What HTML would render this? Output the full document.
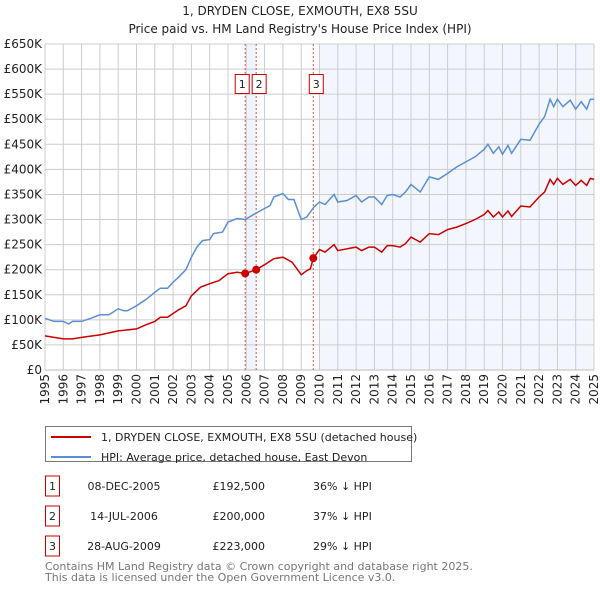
<!DOCTYPE html>
<html><head><meta charset="utf-8"><style>
body{margin:0;background:#fff;width:600px;height:590px;overflow:hidden;font-family:"DejaVu Sans","Liberation Sans",sans-serif;}
</style></head><body>
<svg id="c" width="600" height="590" xmlns="http://www.w3.org/2000/svg" style="font-family:'DejaVu Sans','Liberation Sans',sans-serif">
<text x="300" y="15" text-anchor="middle" font-size="12" fill="#222">1, DRYDEN CLOSE, EXMOUTH, EX8 5SU</text>
<text x="300" y="33" text-anchor="middle" font-size="12" fill="#222">Price paid vs. HM Land Registry's House Price Index (HPI)</text>
<g id="plot"></g>
<g>
<rect x="45.5" y="426.5" width="366" height="35" fill="#fff" stroke="#777"/>
<line x1="51" y1="437" x2="91" y2="437" stroke="#cc0000" stroke-width="2"/>
<text x="101" y="441" font-size="11" fill="#222">1, DRYDEN CLOSE, EXMOUTH, EX8 5SU (detached house)</text>
<line x1="51" y1="457" x2="91" y2="457" stroke="#5b8fd4" stroke-width="2"/>
<text x="101" y="461" font-size="11" fill="#222">HPI: Average price, detached house, East Devon</text>
</g>
<g id="table" font-size="11" fill="#222"></g>
<text x="45" y="570" font-size="11" fill="#777">Contains HM Land Registry data © Crown copyright and database right 2025.</text>
<text x="45" y="581" font-size="11" fill="#777">This data is licensed under the Open Government Licence v3.0.</text>
</svg>
<script>
const hpiYears=[1995,1995.5,1996,1996.3,1996.5,1997,1997.5,1998,1998.5,1999,1999.3,1999.5,2000,2000.5,2001,2001.3,2001.7,2002,2002.3,2002.7,2003,2003.3,2003.6,2004,2004.2,2004.7,2005,2005.5,2005.94,2006.5,2007,2007.3,2007.5,2008,2008.3,2008.6,2009,2009.3,2009.7,2010,2010.3,2010.8,2011,2011.5,2012,2012.3,2012.7,2013,2013.4,2013.7,2014,2014.4,2014.7,2015,2015.5,2016,2016.5,2017,2017.5,2018,2018.5,2019,2019.2,2019.5,2019.8,2020,2020.3,2020.5,2021,2021.5,2022,2022.3,2022.6,2022.8,2023,2023.3,2023.7,2024,2024.3,2024.6,2024.8,2025];
const hpiValues=[103,97,97,92,97,97,103,110,110,122,118,118,128,140,155,163,163,175,185,200,225,245,258,260,272,275,295,302,300,312,322,328,345,352,340,340,300,305,325,335,330,350,335,338,348,335,345,345,330,348,350,345,355,370,355,385,380,392,405,415,425,440,450,432,445,430,448,432,460,458,490,505,540,525,540,525,538,520,535,520,540,540];
const propYears=[1995,1996,1996.5,1997,1998,1999,2000,2000.5,2001,2001.3,2001.7,2002.3,2002.7,2003,2003.5,2004,2004.5,2005,2005.5,2005.94,2006.54,2007,2007.5,2008,2008.5,2009,2009.3,2009.5,2009.66,2010,2010.3,2010.8,2011,2012,2012.3,2012.7,2013,2013.4,2013.7,2014,2014.4,2014.7,2015,2015.5,2016,2016.5,2017,2017.5,2018,2018.5,2019,2019.2,2019.5,2019.8,2020,2020.3,2020.5,2021,2021.5,2022,2022.3,2022.6,2022.8,2023,2023.3,2023.7,2024,2024.3,2024.6,2024.8,2025];
const propValues=[68,62,62,65,70,78,82,90,97,105,105,120,128,148,165,172,178,192,195,192.5,200,210,222,225,215,190,198,202,223,240,235,250,238,245,238,245,245,235,248,248,245,252,265,255,272,270,280,285,292,300,310,318,305,315,305,317,306,327,325,345,355,380,370,382,370,380,368,378,368,382,380];
const saleLabels=["1","2","3"];
const saleYears=[2005.94,2006.54,2009.66];
const saleValues=[192.5,200,223];
const saleDates=["08-DEC-2005","14-JUL-2006","28-AUG-2009"];
const salePrices=["£192,500","£200,000","£223,000"];
const saleHpi=["36% ↓ HPI","37% ↓ HPI","29% ↓ HPI"];
const yTicks=[0,50,100,150,200,250,300,350,400,450,500,550,600,650];
const yTickLabels=["£0","£50K","£100K","£150K","£200K","£250K","£300K","£350K","£400K","£450K","£500K","£550K","£600K","£650K"];
const xTicks=[1995,1996,1997,1998,1999,2000,2001,2002,2003,2004,2005,2006,2007,2008,2009,2010,2011,2012,2013,2014,2015,2016,2017,2018,2019,2020,2021,2022,2023,2024,2025];

const L=45,R=594,T=44,B=370;
const X=y=>L+(y-1995)/30*(R-L);
const Y=v=>B-v/650*(B-T);
const NS="http://www.w3.org/2000/svg";
const plot=document.getElementById('plot');
function mk(tag,attrs,parent){const e=document.createElementNS(NS,tag);for(const k in attrs)e.setAttribute(k,attrs[k]);(parent||plot).appendChild(e);return e;}
// shading
let s=mk('rect',{x:X(saleYears[0]),y:T,width:X(saleYears[1])-X(saleYears[0]),height:B-T,fill:'#eef3fc'});


s=mk('rect',{x:X(2010),y:T,width:R-X(2010),height:B-T,fill:'#f3f7fd'});


// grid
yTicks.forEach((v,i)=>{
 const g=mk('line',{x1:L,x2:R,y1:Y(v),y2:Y(v),stroke:'#cccccc','stroke-width':1});
 
 
 const t=mk('text',{x:L-3,y:Y(v)+4,'text-anchor':'end','font-size':12,fill:'#222'});
 t.textContent=yTickLabels[i];
 
 
});
xTicks.forEach(yr=>{
 const g=mk('line',{x1:X(yr),x2:X(yr),y1:T,y2:B,stroke:'#cccccc','stroke-width':1});
 
 
 const t=mk('text',{x:0,y:0,'text-anchor':'end','font-size':12,fill:'#222',transform:`translate(${X(yr)+4},${B+4}) rotate(-90)`});
 t.textContent=yr;
 
 
});
const ax=mk('line',{x1:L,x2:R,y1:B,y2:B,stroke:'#bbb'});


// sale vlines
saleYears.forEach((yr,i)=>{
 const l=mk('line',{x1:X(yr),x2:X(yr),y1:T,y2:B,stroke:'#e05050','stroke-dasharray':'2,2','stroke-width':1});
 
 
});
function line(xs,vs,col,name){
 const p=mk('polyline',{points:xs.map((x,i)=>X(x).toFixed(1)+','+Y(vs[i]).toFixed(1)).join(' '),fill:'none',stroke:col,'stroke-width':1.5});
 
 
}
line(hpiYears,hpiValues,'#5b8fd4','hpi-line');
line(propYears,propValues,'#cc0000','property-line');
saleYears.forEach((yr,i)=>{
 const c=mk('circle',{cx:X(yr),cy:Y(saleValues[i]),r:4,fill:'#cc0000'});
 
 
 const bx=i===0?X(yr)-10:X(yr)-4;
 const r=mk('rect',{x:bx,y:74.5,width:14,height:19,fill:'#fff',stroke:'#cc0000'});
 
 
 const t=mk('text',{x:bx+7,y:88,'text-anchor':'middle','font-size':11,fill:'#222'});
 t.textContent=saleLabels[i];
 
 
});
// table
const tb=document.getElementById('table');
saleLabels.forEach((lab,i)=>{
 const y=476+i*30;
 const r=mk('rect',{x:45.5,y:y,width:14,height:20,fill:'#fff',stroke:'#cc0000'},tb);
 
 
 const cells=[[52.5,lab,'middle'],[124,saleDates[i],'middle'],[265,salePrices[i],'end'],[313,saleHpi[i],'start']];
 cells.forEach(c=>{
  const t=mk('text',{x:c[0],y:y+14,'text-anchor':c[2]},tb);
  t.textContent=c[1];
  
  
 });
});
</script>
</body></html>
